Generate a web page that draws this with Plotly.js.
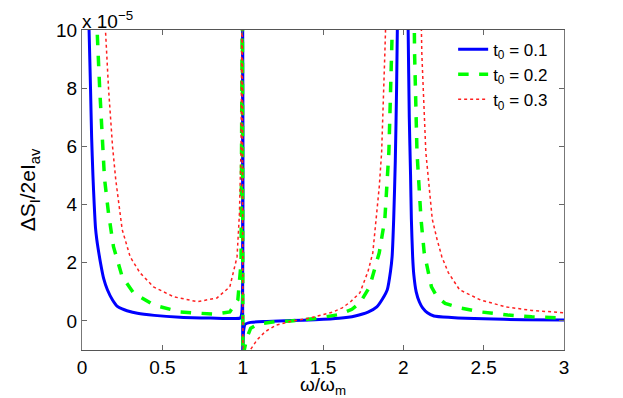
<!DOCTYPE html>
<html>
<head>
<meta charset="utf-8">
<script src="https://cdn.plot.ly/plotly-3.0.1.min.js"></script>
<style>
  body { margin: 0; background: #fff; }
  #chart { width: 623px; height: 398px; }
</style>
</head>
<body>
<div id="chart"></div>
<script>
// values, y in units of 1e-5
const x01 = [0.035, 0.044, 0.053, 0.06, 0.068, 0.076, 0.084, 0.092, 0.1, 0.115, 0.135, 0.158, 0.19, 0.22, 0.25, 0.28, 0.345, 0.45, 0.61, 0.8, 0.95, 0.985, 0.995, 0.999,
  1.001, 1.005, 1.015, 1.05, 1.15, 1.3, 1.45, 1.6, 1.7, 1.78, 1.835, 1.87, 1.9, 1.92, 1.93, 1.94, 1.95, 1.958, 1.965, 1.975,
  2.015, 2.025, 2.03, 2.037, 2.045, 2.05, 2.058, 2.065, 2.08, 2.1, 2.12, 2.15, 2.19, 2.3, 2.5, 2.75, 3.0];
const y01 = [12, 10, 8, 6.3, 5, 4, 3.2, 2.8, 2.5, 2.0, 1.45, 1.07, 0.72, 0.5, 0.41, 0.35, 0.26, 0.19, 0.13, 0.1, 0.08, 0.1, 0.3, 12,
  -3, -0.4, -0.12, -0.05, -0.02, 0.01, 0.04, 0.09, 0.17, 0.3, 0.48, 0.75, 1.07, 1.7, 2.2, 3.5, 5.5, 8, 11, 14,
  14, 12, 10, 7, 5, 3.5, 2.2, 1.6, 1.0, 0.65, 0.45, 0.28, 0.17, 0.12, 0.07, 0.04, 0.03];

const x02 = [0.085, 0.094, 0.11, 0.125, 0.14, 0.165, 0.196, 0.25, 0.32, 0.445, 0.61, 0.82, 0.92, 0.97, 0.99, 0.998,
  1.002, 1.01, 1.025, 1.05, 1.1, 1.2, 1.3, 1.45, 1.5, 1.6, 1.68, 1.73, 1.79, 1.85, 1.885, 1.91, 1.927, 1.935, 1.95,
  2.055, 2.065, 2.07, 2.085, 2.11, 2.13, 2.175, 2.21, 2.26, 2.35, 2.48, 2.65, 2.8, 3.0];
const y02 = [12, 10, 8, 6.2, 4.9, 3.7, 2.55, 1.52, 0.97, 0.55, 0.31, 0.23, 0.31, 0.72, 2.0, 12,
  -3, -1, -0.6, -0.25, -0.1, -0.03, 0.0, 0.08, 0.12, 0.22, 0.4, 0.62, 1.17, 2.34, 3.5, 5.8, 9.2, 11, 14,
  14, 12, 9.2, 5.8, 3.5, 2.34, 1.17, 0.83, 0.6, 0.45, 0.31, 0.2, 0.14, 0.1];

const x03 = [0.13, 0.146, 0.165, 0.19, 0.21, 0.25, 0.3, 0.36, 0.445, 0.57, 0.72, 0.84, 0.92, 0.965, 0.98, 0.99, 0.997,
  1.003, 1.047, 1.09, 1.14, 1.21, 1.31, 1.42, 1.56, 1.62, 1.67, 1.73, 1.78, 1.81, 1.85, 1.865, 1.885, 1.89, 1.91,
  2.1, 2.11, 2.115, 2.14, 2.18, 2.21, 2.24, 2.28, 2.35, 2.48, 2.64, 2.8, 3.0];
const y03 = [13, 10, 8, 6, 4.86, 3.14, 2.2, 1.66, 1.17, 0.83, 0.66, 0.79, 1.17, 2.2, 3.7, 6, 12,
  -4, -1, -0.65, -0.37, -0.14, 0.0, 0.1, 0.3, 0.45, 0.65, 0.97, 1.7, 2.34, 4.6, 5.8, 9.2, 11, 14,
  14, 10.5, 9.2, 5.8, 3.5, 2.8, 2.2, 1.66, 1.07, 0.72, 0.48, 0.36, 0.28];

const names = ["t<sub>0</sub> = 0.1", "t<sub>0</sub> = 0.2", "t<sub>0</sub> = 0.3"];
const xTicks = [0, 0.5, 1, 1.5, 2, 2.5, 3];
const yTicks = [0, 2, 4, 6, 8, 10];

const font = "Liberation Sans, Arial, sans-serif";

const traces = [
  { x: x01, y: y01, name: names[0], type: "scatter", mode: "lines",
    line: { color: "#0000ff", width: 3, shape: "spline", smoothing: 0.6 } },
  { x: x02, y: y02, name: names[1], type: "scatter", mode: "lines",
    line: { color: "#00ff00", width: 3.5, dash: "dash" } },
  { x: x03, y: y03, name: names[2], type: "scatter", mode: "lines",
    line: { color: "#ff2020", width: 1.5, dash: "dot" } },
];

const layout = {
  width: 623,
  height: 398,
  margin: { l: 82, r: 59, t: 30, b: 48 },
  paper_bgcolor: "#fff",
  plot_bgcolor: "#fff",
  font: { family: font, size: 19, color: "#000" },
  showlegend: true,
  legend: {
    x: 0.77, y: 0.995, xanchor: "left", yanchor: "top",
    bgcolor: "rgba(255,255,255,0)", borderwidth: 0,
    font: { family: font, size: 17, color: "#000" },
  },
  xaxis: {
    range: [0, 3],
    tickvals: xTicks,
    ticktext: xTicks.map(String),
    tickfont: { family: font, size: 19 },
    ticks: "inside", ticklen: 5, tickcolor: "#666",
    showline: true, linecolor: "#555", linewidth: 1, mirror: "ticks",
    showgrid: false, zeroline: false,
    title: { text: "ω/ω<sub>m</sub>", font: { family: font, size: 19 }, standoff: 2 },
  },
  yaxis: {
    range: [-1, 10],
    tickvals: yTicks,
    ticktext: yTicks.map(String),
    tickfont: { family: font, size: 19 },
    ticks: "inside", ticklen: 5, tickcolor: "#666",
    showline: true, linecolor: "#777", linewidth: 1, mirror: "ticks",
    showgrid: false, zeroline: false,
    title: { text: "ΔS<sub>I</sub>/2eI<sub>av</sub>", font: { family: font, size: 21 }, standoff: 14 },
  },
  annotations: [
    { xref: "paper", yref: "paper", x: 0, y: 1, xanchor: "left", yanchor: "bottom",
      text: "x 10<sup>−5</sup>", showarrow: false, font: { family: font, size: 19 }, yshift: -4, xshift: -2 },
  ],
};

Plotly.newPlot("chart", traces, layout, { displayModeBar: false, staticPlot: true });
</script>
</body>
</html>
